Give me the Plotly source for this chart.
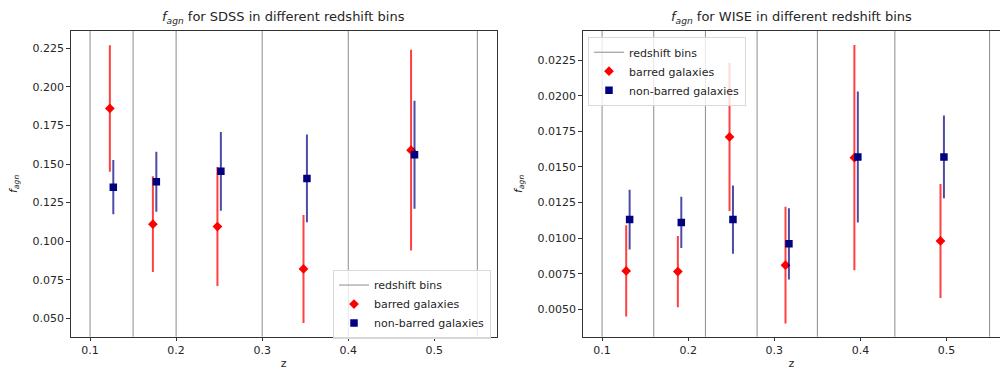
import plotly.graph_objects as go

# ---- SDSS sample ----
sdss_bins = [0.1, 0.15, 0.2, 0.3, 0.4, 0.55]
sdss_z = [0.125, 0.175, 0.25, 0.35, 0.475]
sdss_barred = [0.186, 0.111, 0.1095, 0.082, 0.159]
sdss_barred_err = [0.041, 0.031, 0.0385, 0.035, 0.065]
sdss_nonbarred = [0.135, 0.1385, 0.1453, 0.1407, 0.156]
sdss_nonbarred_err = [0.0176, 0.0195, 0.0255, 0.0285, 0.035]

# ---- WISE sample ----
wise_bins = [0.1, 0.16, 0.22, 0.28, 0.35, 0.44, 0.55]
wise_z = [0.13, 0.19, 0.25, 0.315, 0.395, 0.495]
wise_barred = [0.0077, 0.00765, 0.0171, 0.0081, 0.01565, 0.0098]
wise_barred_err = [0.0032, 0.0025, 0.0052, 0.0041, 0.0079, 0.0040]
wise_nonbarred = [0.0113, 0.0111, 0.0113, 0.0096, 0.0157, 0.0157]
wise_nonbarred_err = [0.0021, 0.0018, 0.0024, 0.0025, 0.0046, 0.0029]

dz = 0.002  # horizontal offset between the two populations inside a bin

FONT = "DejaVu Sans"
TXT = "#262626"
RED_BAR = "rgba(255,0,0,0.75)"
NAVY_BAR = "rgba(0,0,128,0.7)"

fig = go.Figure()


def add_panel(z, barred, barred_err, nonbarred, nonbarred_err, bins, xa, ya, leg):
    # bin edges as vertical lines; only the first one gets a legend entry
    for i, b in enumerate(bins):
        fig.add_shape(
            type="line", x0=b, x1=b, y0=0, y1=1,
            xref=xa, yref=ya + " domain",
            line=dict(color="#8c8c8c", width=1), layer="below",
            showlegend=(i == 0), name="redshift bins", legend=leg, legendrank=1,
        )
    fig.add_trace(go.Scatter(
        x=[v - dz for v in z], y=barred, mode="markers", name="barred galaxies",
        marker=dict(symbol="diamond", size=7.5, color="red"),
        error_y=dict(type="data", array=barred_err, color=RED_BAR, thickness=2, width=0),
        xaxis=xa, yaxis=ya, legend=leg, legendrank=2,
    ))
    fig.add_trace(go.Scatter(
        x=[v + dz for v in z], y=nonbarred, mode="markers", name="non-barred galaxies",
        marker=dict(symbol="square", size=7.5, color="navy"),
        error_y=dict(type="data", array=nonbarred_err, color=NAVY_BAR, thickness=2, width=0),
        xaxis=xa, yaxis=ya, legend=leg, legendrank=3,
    ))


add_panel(sdss_z, sdss_barred, sdss_barred_err, sdss_nonbarred, sdss_nonbarred_err,
          sdss_bins, "x", "y", "legend")
add_panel(wise_z, wise_barred, wise_barred_err, wise_nonbarred, wise_nonbarred_err,
          wise_bins, "x2", "y2", "legend2")

ydom = [0.09, 0.9162]
axis_common = dict(
    showgrid=False, zeroline=False, showline=True, linecolor="#333", linewidth=1,
    ticks="outside", ticklen=3.5, tickcolor="#333", tickwidth=1,
    tickfont=dict(family=FONT, size=11, color=TXT),
)

legend_style = dict(
    bgcolor="rgba(255,255,255,0.8)", bordercolor="#d9d9d9", borderwidth=1,
    font=dict(family=FONT, size=11, color=TXT), tracegroupgap=0,
    itemwidth=30,
)

label_font = dict(size=11, family=FONT, color=TXT)

fig.update_layout(
    width=1000, height=370,
    margin=dict(l=0, r=0, t=0, b=0),
    paper_bgcolor="white", plot_bgcolor="white",
    font=dict(family=FONT, color=TXT),
    xaxis=dict(domain=[0.0707, 0.4967], anchor="y", range=[0.0775, 0.5725],
               dtick=0.1, tick0=0, tickformat=".1f", mirror=True,
               title=dict(text="z", font=label_font, standoff=4),
               **axis_common),
    yaxis=dict(domain=ydom, anchor="x", range=[0.0381, 0.2362],
               dtick=0.025, tick0=0, tickformat=".3f", mirror=True,
               title=dict(text="<i>f</i><sub><i>agn</i></sub>", font=label_font, standoff=12),
               **axis_common),
    xaxis2=dict(domain=[0.5827, 1.0], anchor="y2", range=[0.0775, 0.5621],
                dtick=0.1, tick0=0, tickformat=".1f", mirror=True,
                title=dict(text="z", font=label_font, standoff=4),
                **axis_common),
    yaxis2=dict(domain=ydom, anchor="x2", range=[0.00308, 0.02454],
                dtick=0.0025, tick0=0, tickformat=".4f", mirror=False,
                title=dict(text="<i>f</i><sub><i>agn</i></sub>", font=label_font, standoff=12),
                **axis_common),
    legend=dict(x=0.491, y=0.085, xanchor="right", yanchor="bottom", **legend_style),
    legend2=dict(x=0.588, y=0.9008, xanchor="left", yanchor="top", **legend_style),
    annotations=[
        dict(text="<i>f</i><sub><i>agn</i></sub> for SDSS in different redshift bins",
             xref="x domain", yref="y domain", x=0.5, y=1, yanchor="bottom", yshift=3,
             showarrow=False, font=dict(family=FONT, size=13, color=TXT)),
        dict(text="<i>f</i><sub><i>agn</i></sub> for WISE in different redshift bins",
             xref="x2 domain", yref="y2 domain", x=0.5, y=1, yanchor="bottom", yshift=3,
             showarrow=False, font=dict(family=FONT, size=13, color=TXT)),
    ],
)

fig.write_html("out.html")
